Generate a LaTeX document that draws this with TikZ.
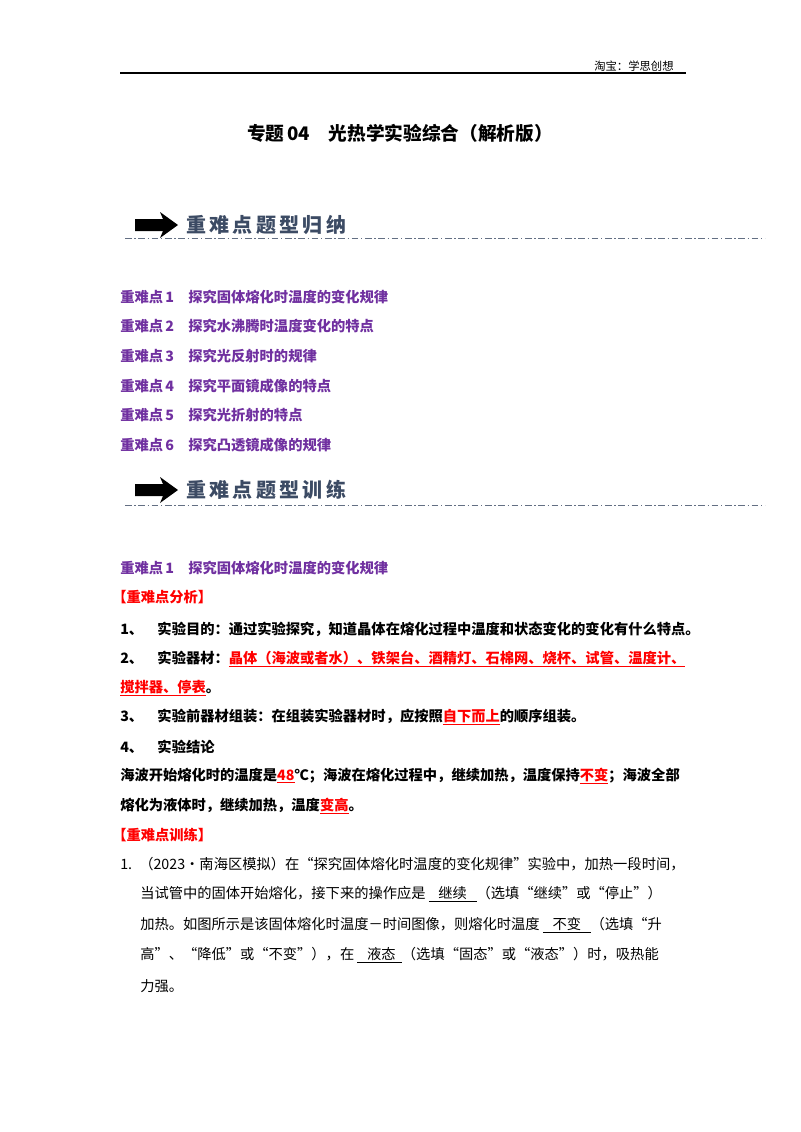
\documentclass[tikz,border=0pt]{standalone}
\usepackage{fontspec}
\setmainfont{Liberation Serif}
\newfontfamily\cjk{Noto Sans CJK SC}
\newcommand{\myul}[1]{\underline{#1}}
\definecolor{pur}{RGB}{112,48,160}
\definecolor{rd}{RGB}{255,0,0}
\definecolor{ban}{RGB}{60,75,100}
\begin{document}
\begin{tikzpicture}[x=0.75pt,y=-0.75pt,
  t/.style={anchor=west,inner sep=0pt,font=\cjk\fontsize{10.7}{12}\selectfont},
  tb/.style={t,font=\cjk\bfseries\fontsize{10.7}{12}\selectfont},
  pl/.style={tb,text=pur},
  ban/.style={anchor=west,inner sep=0pt,text=ban,font=\cjk\bfseries\fontsize{15}{16}\selectfont},
  dd/.style={draw=ban!80,line width=0.6pt,dash pattern=on 5pt off 2pt on 1pt off 2pt}]
\useasboundingbox (0,0) rectangle (800,1132);
\node[t,font=\cjk\fontsize{8.5}{10}\selectfont] (hdr) at (594,66) {淘宝：学思创想};
\draw[line width=0.8pt] (120,73) -- (686,73);
\node[inner sep=0pt,font=\cjk\bfseries\fontsize{14}{16}\selectfont] (title) at (400,133) {专题\,04\quad 光热学实验综合（解析版）};
% banner 1
\fill[ban] (135,219) -- (163,219) -- (160,212) -- (178,225) -- (160,238) -- (163,231) -- (135,231) -- cycle;
\node[ban] (b1) at (186,225) {重\,难\,点\,题\,型\,归\,纳};
\draw[dd] (125,238) -- (765,238);
\node[pl] (l1) at (120,297) {重难点\,1\quad 探究固体熔化时温度的变化规律};
\node[pl] (l2) at (120,326) {重难点\,2\quad 探究水沸腾时温度变化的特点};
\node[pl] (l3) at (120,356) {重难点\,3\quad 探究光反射时的规律};
\node[pl] (l4) at (120,386) {重难点\,4\quad 探究平面镜成像的特点};
\node[pl] (l5) at (120,415) {重难点\,5\quad 探究光折射的特点};
\node[pl] (l6) at (120,445) {重难点\,6\quad 探究凸透镜成像的规律};
% banner 2
\fill[ban] (135,484) -- (163,484) -- (160,477) -- (178,490) -- (160,503) -- (163,496) -- (135,496) -- cycle;
\node[ban] (b2) at (186,490) {重\,难\,点\,题\,型\,训\,练};
\draw[dd] (125,505) -- (765,505);
\node[pl] (s1) at (120,568) {重难点\,1\quad 探究固体熔化时温度的变化规律};
\node[tb,text=rd] (a1) at (112,597) {【重难点分析】};
\node[tb] (i1) at (120,629) {1、\quad 实验目的：通过实验探究，知道晶体在熔化过程中温度和状态变化的变化有什么特点。};
\node[tb] (i2) at (120,659) {2、\quad 实验器材：\textcolor{rd}{\myul{晶体（海波或者水）、铁架台、酒精灯、石棉网、烧杯、试管、温度计、}}};
\node[tb] (i2b) at (120,688) {\textcolor{rd}{\myul{搅拌器、停表}}。};
\node[tb] (i3) at (120,717) {3、\quad 实验前器材组装：在组装实验器材时，应按照\textcolor{rd}{\myul{自下而上}}的顺序组装。};
\node[tb] (i4) at (120,747) {4、\quad 实验结论};
\node[tb] (c1) at (120,776) {海波开始熔化时的温度是\textcolor{rd}{\myul{48}}℃；海波在熔化过程中，继续加热，温度保持\textcolor{rd}{\myul{不变}}；海波全部};
\node[tb] (c2) at (120,806) {熔化为液体时，继续加热，温度\textcolor{rd}{\myul{变高}}。};
\node[tb,text=rd] (a2) at (112,835) {【重难点训练】};
\node[t] (q1) at (120,864) {1.\enspace（2023•南海区模拟）在“探究固体熔化时温度的变化规律”实验中，加热一段时间，};
\node[t] (q2) at (140,894) {当试管中的固体开始熔化，接下来的操作应是\ \myul{\ \ \ 继续\ \ \ }（选填“继续”或“停止”）};
\node[t] (q3) at (140,925) {加热。如图所示是该固体熔化时温度－时间图像，则熔化时温度\ \myul{\ \ \ 不变\ \ \ }（选填“升};
\node[t] (q4) at (140,955) {高”、“降低”或“不变”），在\ \myul{\ \ \ 液态\ \ }（选填“固态”或“液态”）时，吸热能};
\node[t] (q5) at (140,986) {力强。};
\end{tikzpicture}
\end{document}
